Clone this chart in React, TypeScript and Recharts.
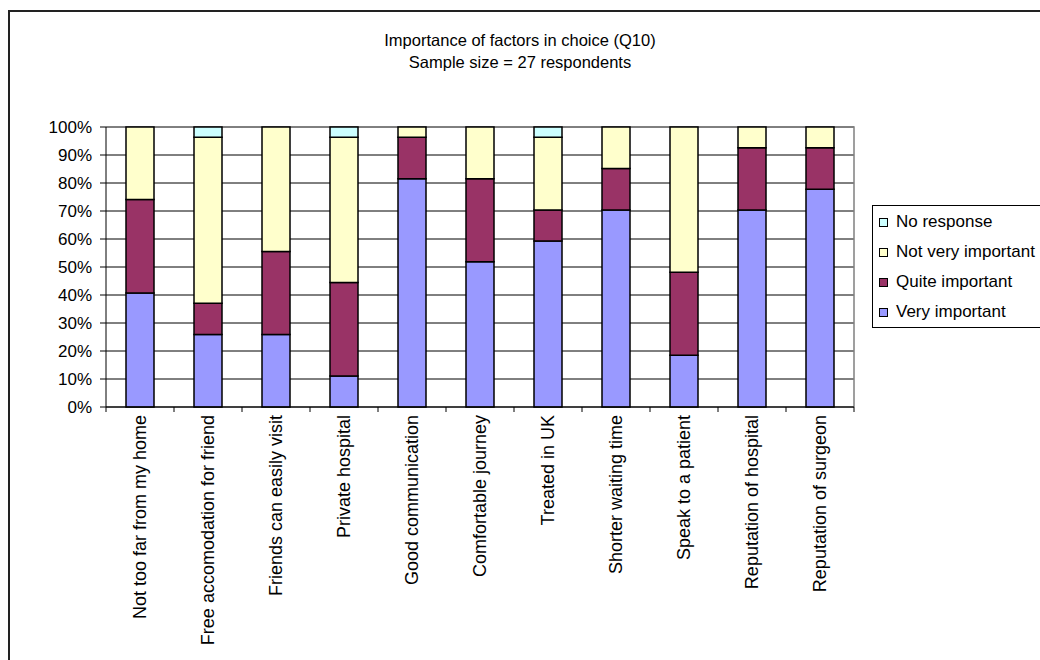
import { Bar, BarChart, CartesianGrid, XAxis, YAxis, usePlotArea } from "recharts";

// respondent counts per factor (27 respondents each)
const categories = [
  "Not too far from my home",
  "Free accomodation for friend",
  "Friends can easily visit",
  "Private hospital",
  "Good communication",
  "Comfortable journey",
  "Treated in UK",
  "Shorter waiting time",
  "Speak to a patient",
  "Reputation of hospital",
  "Reputation of surgeon",
];
const veryImportant = [11, 7, 7, 3, 22, 14, 16, 19, 5, 19, 21];
const quiteImportant = [9, 3, 8, 9, 4, 8, 3, 4, 8, 6, 4];
const notVeryImportant = [7, 16, 12, 14, 1, 5, 7, 4, 14, 2, 2];
const noResponse = [0, 1, 0, 1, 0, 0, 1, 0, 0, 0, 0];

const yTicks = [0, 0.1, 0.2, 0.3, 0.4, 0.5, 0.6, 0.7, 0.8, 0.9, 1];

const series = [
  { key: "very", name: "Very important", color: "#9999FF" },
  { key: "quite", name: "Quite important", color: "#993366" },
  { key: "notVery", name: "Not very important", color: "#FFFFCC" },
  { key: "noResp", name: "No response", color: "#CCFFFF" },
];

const data = categories.map((name, i) => ({
  name,
  very: veryImportant[i],
  quite: quiteImportant[i],
  notVery: notVeryImportant[i],
  noResp: noResponse[i],
}));

const W = 1040;
const H = 660;
const PLOT_LEFT = 106;
const PLOT_TOP = 127;
const PLOT_RIGHT = 854;
const PLOT_BOTTOM = 407;
const Y_AXIS_W = 60;
const X_AXIS_H = 240;
const FONT = "'Liberation Sans', Arial, sans-serif";

function PlotFrame() {
  const area = usePlotArea();
  if (!area) return null;
  const r = area.x + area.width;
  return (
    <path
      d={`M${area.x},${area.y}H${r}V${area.y + area.height}`}
      fill="none"
      stroke="#808080"
      strokeWidth={1.5}
    />
  );
}

function CategoryTick(props: any) {
  const { x, payload, index } = props;
  const band = (PLOT_RIGHT - PLOT_LEFT) / categories.length;
  const labelY = PLOT_BOTTOM + 8;
  return (
    <g>
      {index === 0 && (
        <line x1={x - band / 2} x2={x - band / 2} y1={PLOT_BOTTOM} y2={PLOT_BOTTOM + 5} stroke="#000" />
      )}
      <line x1={x + band / 2} x2={x + band / 2} y1={PLOT_BOTTOM} y2={PLOT_BOTTOM + 5} stroke="#000" />
      <text
        x={x}
        y={labelY}
        dy="0.35em"
        transform={`rotate(-90 ${x} ${labelY})`}
        textAnchor="end"
        fontSize={18}
        fontFamily={FONT}
        fill="#000"
      >
        {payload.value}
      </text>
    </g>
  );
}

export default function App() {
  return (
    <div style={{ position: "absolute", left: 0, top: 0, width: W, height: H, background: "#fff", fontFamily: FONT, overflow: "hidden" }}>
      <div
        style={{
          position: "absolute",
          left: 8,
          top: 10,
          width: W,
          height: H,
          border: "2px solid #222",
          boxSizing: "border-box",
        }}
      />
      <div style={{ position: "absolute", left: 0, top: 29, width: W, textAlign: "center", fontSize: 16.5, lineHeight: "22px", color: "#000" }}>
        <div>Importance of factors in choice (Q10)</div>
        <div>Sample size = 27 respondents</div>
      </div>
      <div style={{ position: "absolute", left: 0, top: 0 }}>
        <BarChart
          width={W}
          height={H}
          data={data}
          stackOffset="expand"
          barSize={28}
          margin={{
            top: PLOT_TOP,
            left: PLOT_LEFT - Y_AXIS_W,
            right: W - PLOT_RIGHT,
            bottom: H - PLOT_BOTTOM - X_AXIS_H,
          }}
        >
          <CartesianGrid vertical={false} stroke="#000" strokeWidth={1} />
          <XAxis
            dataKey="name"
            interval={0}
            height={X_AXIS_H}
            tickLine={false}
            axisLine={{ stroke: "#000" }}
            tick={<CategoryTick />}
          />
          <YAxis
            width={Y_AXIS_W}
            domain={[0, 1]}
            ticks={yTicks}
            tickFormatter={(v: number) => `${Math.round(v * 100)}%`}
            tick={{ fontSize: 17, fill: "#000", fontFamily: FONT }}
            tickSize={6}
            tickMargin={8}
            axisLine={{ stroke: "#000" }}
            tickLine={{ stroke: "#000" }}
          />
          {series.map((s) => (
            <Bar
              key={s.key}
              dataKey={s.key}
              name={s.name}
              stackId="a"
              fill={s.color}
              stroke="#000"
              strokeWidth={1.5}
              isAnimationActive={false}
            />
          ))}
          <PlotFrame />
        </BarChart>
      </div>
      <div
        style={{
          position: "absolute",
          left: 872,
          top: 205,
          width: 175,
          height: 123,
          border: "1px solid #000",
          boxSizing: "border-box",
          paddingTop: 1,
        }}
      >
        {[...series].reverse().map((s) => (
          <div key={s.key} style={{ display: "flex", alignItems: "center", height: 30, fontSize: 17, color: "#000", whiteSpace: "nowrap" }}>
            <span
              style={{
                display: "inline-block",
                width: 7,
                height: 7,
                background: s.color,
                border: "1px solid #000",
                marginLeft: 6,
                marginRight: 8,
                flexShrink: 0,
              }}
            />
            {s.name}
          </div>
        ))}
      </div>
    </div>
  );
}
